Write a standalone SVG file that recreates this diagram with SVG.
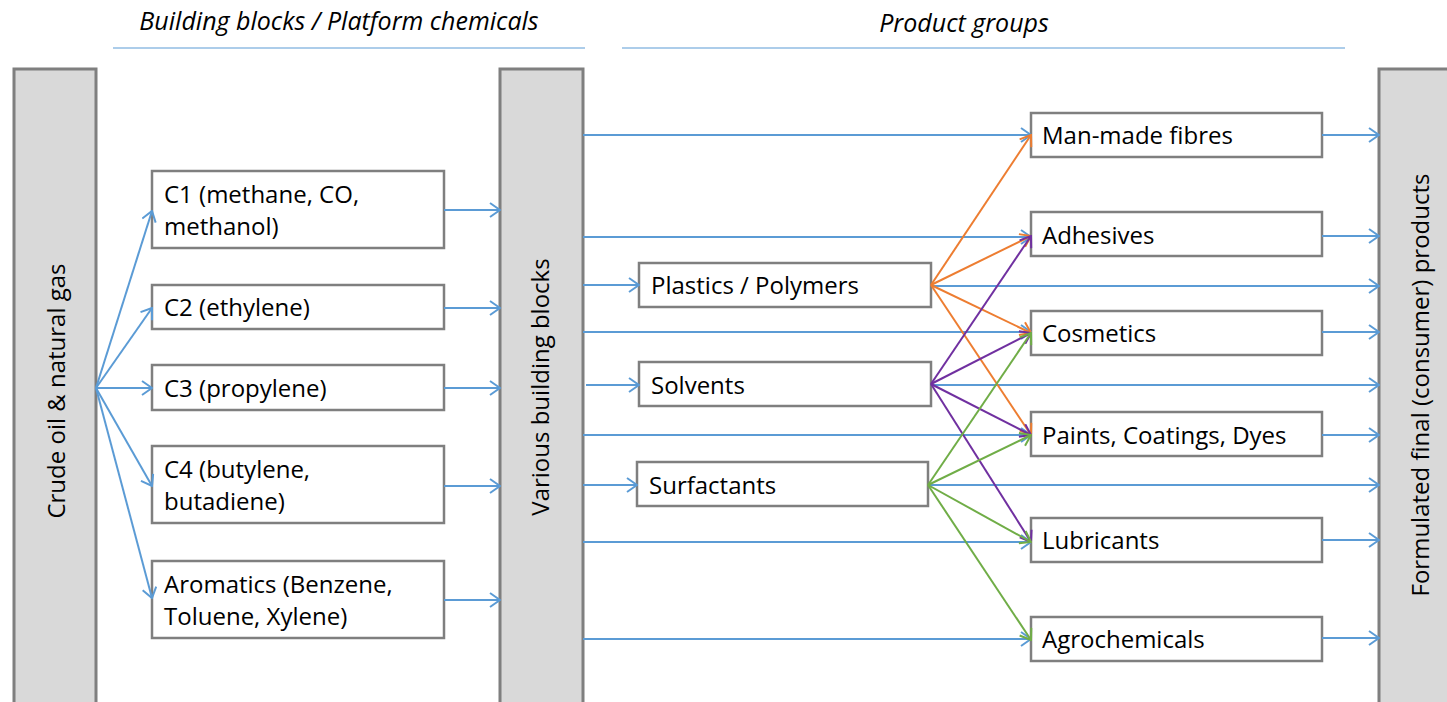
<svg xmlns="http://www.w3.org/2000/svg" width="1447" height="702" viewBox="0 0 1447 702">
<style>
.bar{fill:#d9d9d9;stroke:#7f7f7f;stroke-width:3}
.box{fill:#fff;stroke:#7f7f7f;stroke-width:2.5}
.t{font-family:"Open Sans","Liberation Sans",sans-serif;font-size:24px;fill:#000}
.h{font-family:"Open Sans","Liberation Sans",sans-serif;font-size:25px;font-style:italic;fill:#000;text-anchor:middle}
.v{font-family:"Open Sans","Liberation Sans",sans-serif;font-size:24px;fill:#000;text-anchor:middle}
.b{stroke:#5b9bd5;stroke-width:2;fill:none;marker-end:url(#mb)}
.o{stroke:#ed7d31;stroke-width:2;fill:none;marker-end:url(#mo)}
.p{stroke:#7030a0;stroke-width:2;fill:none;marker-end:url(#mp)}
.g{stroke:#70ad47;stroke-width:2;fill:none;marker-end:url(#mg)}
</style>
<defs>
<marker id="mb" markerUnits="userSpaceOnUse" viewBox="0 0 12 16" refX="11" refY="8" markerWidth="12" markerHeight="16" orient="auto"><path d="M1,1 L11,8 L1,15" fill="none" stroke="#5b9bd5" stroke-width="2"/></marker>
<marker id="mo" markerUnits="userSpaceOnUse" viewBox="0 0 12 16" refX="11" refY="8" markerWidth="12" markerHeight="16" orient="auto"><path d="M1,1 L11,8 L1,15" fill="none" stroke="#ed7d31" stroke-width="2"/></marker>
<marker id="mp" markerUnits="userSpaceOnUse" viewBox="0 0 12 16" refX="11" refY="8" markerWidth="12" markerHeight="16" orient="auto"><path d="M1,1 L11,8 L1,15" fill="none" stroke="#7030a0" stroke-width="2"/></marker>
<marker id="mg" markerUnits="userSpaceOnUse" viewBox="0 0 12 16" refX="11" refY="8" markerWidth="12" markerHeight="16" orient="auto"><path d="M1,1 L11,8 L1,15" fill="none" stroke="#70ad47" stroke-width="2"/></marker>
</defs>
<rect width="1447" height="702" fill="#fff"/>
<g id="headers">
<text class="h" x="339" y="30">Building blocks / Platform chemicals</text>
<line x1="113" y1="48" x2="585" y2="48" stroke="#5b9bd5" stroke-width="1"/>
<text class="h" x="964" y="32">Product groups</text>
<line x1="622" y1="48" x2="1345" y2="48" stroke="#5b9bd5" stroke-width="1"/>
</g>
<g id="crude"><rect class="bar" x="14" y="69" width="82" height="660"/><text class="v" transform="translate(65,391) rotate(-90)">Crude oil &amp; natural gas</text></g>
<g id="various"><rect class="bar" x="500" y="69" width="83" height="660"/><text class="v" transform="translate(549,387) rotate(-90)">Various building blocks</text></g>
<g id="final"><rect class="bar" x="1379" y="69" width="90" height="660"/><text class="v" transform="translate(1429,385) rotate(-90)">Formulated final (consumer) products</text></g>
<g id="c1"><rect class="box" x="152" y="171" width="292" height="77"/><text class="t" x="164" y="203">C1 (methane, CO,</text><text class="t" x="164" y="235">methanol)</text></g>
<g id="c2"><rect class="box" x="152" y="285" width="292" height="44"/><text class="t" x="164" y="316">C2 (ethylene)</text></g>
<g id="c3"><rect class="box" x="152" y="365" width="292" height="45"/><text class="t" x="164" y="397">C3 (propylene)</text></g>
<g id="c4"><rect class="box" x="152" y="446" width="292" height="77"/><text class="t" x="164" y="478">C4 (butylene,</text><text class="t" x="164" y="510">butadiene)</text></g>
<g id="arom"><rect class="box" x="152" y="561" width="292" height="77"/><text class="t" x="164" y="593">Aromatics (Benzene,</text><text class="t" x="164" y="625">Toluene, Xylene)</text></g>
<g id="plastics"><rect class="box" x="639" y="263" width="292" height="44"/><text class="t" x="651" y="294">Plastics / Polymers</text></g>
<g id="solvents"><rect class="box" x="639" y="362" width="292" height="44"/><text class="t" x="651" y="394">Solvents</text></g>
<g id="surfactants"><rect class="box" x="637" y="462" width="291" height="44"/><text class="t" x="649" y="494">Surfactants</text></g>
<g id="fibres"><rect class="box" x="1031" y="113" width="291" height="44"/><text class="t" x="1042" y="144">Man-made fibres</text></g>
<g id="adhesives"><rect class="box" x="1031" y="212" width="291" height="44"/><text class="t" x="1042" y="244">Adhesives</text></g>
<g id="cosmetics"><rect class="box" x="1031" y="311" width="291" height="44"/><text class="t" x="1042" y="342">Cosmetics</text></g>
<g id="paints"><rect class="box" x="1031" y="412" width="291" height="44"/><text class="t" x="1042" y="444">Paints, Coatings, Dyes</text></g>
<g id="lubricants"><rect class="box" x="1031" y="518" width="291" height="44"/><text class="t" x="1042" y="549">Lubricants</text></g>
<g id="agro"><rect class="box" x="1031" y="617" width="291" height="44"/><text class="t" x="1042" y="648">Agrochemicals</text></g>
<g id="connectors">
<path class="b" d="M96,388 L152,211"/>
<path class="b" d="M96,388 L152,308"/>
<path class="b" d="M96,388 L152,388"/>
<path class="b" d="M96,388 L152,486"/>
<path class="b" d="M96,388 L152,598"/>
<path class="b" d="M444,210 L500,210"/>
<path class="b" d="M444,308 L500,308"/>
<path class="b" d="M444,388 L500,388"/>
<path class="b" d="M444,486 L500,486"/>
<path class="b" d="M444,600 L500,600"/>
<path class="b" d="M583,285 L639,285"/>
<path class="b" d="M586,385 L639,385"/>
<path class="b" d="M583,485 L637,485"/>
<path class="b" d="M583,135 L1031,135"/>
<path class="b" d="M583,237 L1031,237"/>
<path class="b" d="M583,332 L1031,332"/>
<path class="b" d="M583,435 L1031,435"/>
<path class="b" d="M583,542 L1031,542"/>
<path class="b" d="M583,639 L1031,639"/>
<path class="b" d="M1322,135 L1379,135"/>
<path class="b" d="M1322,236 L1379,236"/>
<path class="b" d="M1322,332 L1379,332"/>
<path class="b" d="M1322,435 L1379,435"/>
<path class="b" d="M1322,540 L1379,540"/>
<path class="b" d="M1322,638 L1379,638"/>
<path class="b" d="M931,286 L1379,286"/>
<path class="b" d="M931,385 L1379,385"/>
<path class="b" d="M928,485 L1379,485"/>
<path class="o" d="M931,285 L1031,135"/>
<path class="o" d="M931,285 L1031,236"/>
<path class="o" d="M931,285 L1031,333"/>
<path class="o" d="M931,285 L1031,435"/>
<path class="p" d="M931,384 L1031,236"/>
<path class="p" d="M931,384 L1031,333"/>
<path class="p" d="M931,384 L1031,435"/>
<path class="p" d="M931,384 L1031,542"/>
<path class="g" d="M928,485 L1031,333"/>
<path class="g" d="M928,485 L1031,435"/>
<path class="g" d="M928,485 L1031,542"/>
<path class="g" d="M928,485 L1031,640"/>
</g>
</svg>
